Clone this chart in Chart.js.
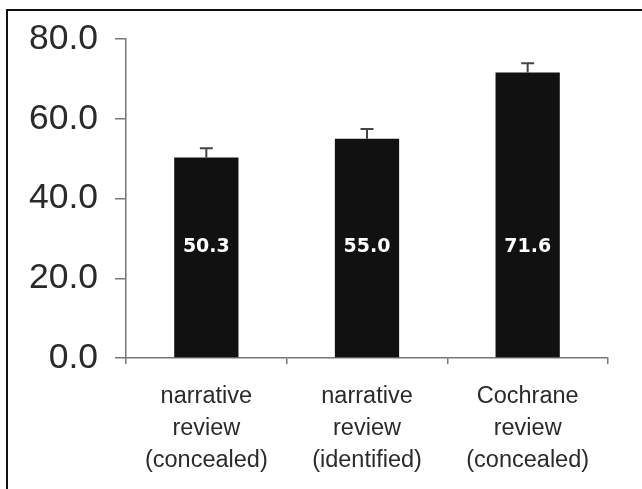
<!DOCTYPE html>
<html>
<head>
<meta charset="utf-8">
<script src="https://cdn.jsdelivr.net/npm/chart.js@4"></script>
<style>
  html, body { margin: 0; padding: 0; background: #fff; }
  #wrap { position: relative; width: 642px; height: 489px; }
  #frame { position: absolute; left: 6px; top: 9px; right: 0; bottom: 0;
           border-left: 2px solid #111; border-top: 2px solid #111; pointer-events: none; }
</style>
</head>
<body>
<div id="wrap">
  <canvas id="barChart" width="642" height="489"></canvas>
  <div id="frame"></div>
</div>
<script>
// categories and values
const categories = [
  ['narrative', 'review', '(concealed)'],
  ['narrative', 'review', '(identified)'],
  ['Cochrane', 'review', '(concealed)']
];
const means = [50.3, 55.0, 71.6];
const errorPlus = [2.3, 2.4, 2.3];   // upper error bar length
const labelLevel = 27.7;             // value at which the in-bar labels sit
const yMin = 0, yMax = 80, yStep = 20;

// draw upward error bars and white value labels inside the bars
const errorBarPlugin = {
  id: 'errorBars',
  afterDatasetsDraw(chart) {
    const ctx = chart.ctx;
    const yScale = chart.scales.y;
    const meta = chart.getDatasetMeta(0);
    ctx.save();
    meta.data.forEach((bar, i) => {
      const yTop = yScale.getPixelForValue(means[i]);
      const yErr = yScale.getPixelForValue(means[i] + errorPlus[i]);
      ctx.strokeStyle = '#444';
      ctx.lineWidth = 2;
      ctx.beginPath();
      ctx.moveTo(bar.x, yTop);
      ctx.lineTo(bar.x, yErr);
      ctx.moveTo(bar.x - 6.5, yErr);
      ctx.lineTo(bar.x + 6.5, yErr);
      ctx.stroke();

      ctx.fillStyle = '#fff';
      ctx.font = 'bold 19px "DejaVu Sans"';
      ctx.textAlign = 'center';
      ctx.textBaseline = 'middle';
      ctx.fillText(means[i].toFixed(1), bar.x, yScale.getPixelForValue(labelLevel));
    });
    ctx.restore();
  }
};

const ctxBar = document.getElementById('barChart').getContext('2d');
const barChart = new Chart(ctxBar, {
  type: 'bar',
  data: {
    labels: categories,
    datasets: [{
      data: means,
      backgroundColor: '#111',
      borderWidth: 0,
      categoryPercentage: 1.0,
      barPercentage: 0.4
    }]
  },
  options: {
    responsive: false,
    animation: false,
    layout: { padding: { left: 0, top: 39, right: 34, bottom: 0 } },
    plugins: { legend: { display: false }, tooltip: { enabled: false } },
    scales: {
      x: {
        grid: { offset: true, drawOnChartArea: false, tickLength: 6, color: '#777', lineWidth: 1.5 },
        border: { color: '#777', width: 1.5 },
        ticks: {
          color: '#2a2a2a',
          font: { family: '"Liberation Sans", Arial, sans-serif', size: 23.5, lineHeight: 1.36 },
          padding: 17,
          maxRotation: 0
        },
        afterFit(scale) { scale.height = 131; }
      },
      y: {
        min: yMin,
        max: yMax,
        grid: { drawOnChartArea: false, tickLength: 11, color: '#777', lineWidth: 1.5 },
        border: { color: '#777', width: 1.5 },
        ticks: {
          stepSize: yStep,
          color: '#2a2a2a',
          font: { family: '"Liberation Sans", Arial, sans-serif', size: 35.5 },
          padding: 17,
          callback: v => v.toFixed(1)
        },
        afterFit(scale) { scale.width = 126; }
      }
    }
  },
  plugins: [errorBarPlugin]
});
</script>
</body>
</html>
